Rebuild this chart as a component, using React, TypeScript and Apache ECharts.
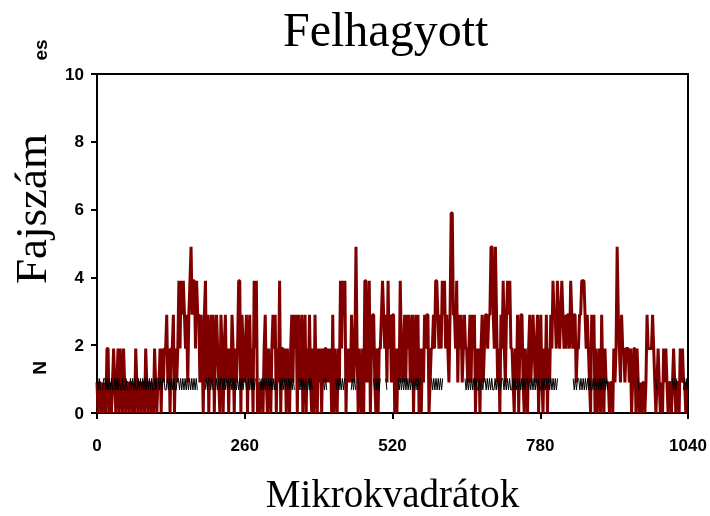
import React, { useEffect, useRef } from "react";
import * as echarts from "echarts";

// Species count per micro-quadrat step (each char = one sample)
const redCounts: string[] = [
  // 0 - 93
  "101101010220101210120210210110110102101101102101",
  // 93 - 187
  "101021011202122312022302124243432313453442433132",
  // 187 - 280
  "034130231302321032023120213202124403212302312042",
  // 280 - 373
  "401011023102102323021402212021023132303213023021",
  // 373 - 466
  "310203102120212212120302102142434021213212520210",
  // 466 - 560
  "204412402331020223432314231330202142123132312302",
  // 560 - 653
  "313020213233012232443232434232136633241323123221",
  // 653 - 746
  "231323021202312332335532531203242134342210213023",
  // 746 - 839
  "310210231232123023102130213243324323432323324323",
  // 839 - 933
  "312233444323210323020120310211101102125321322122",
  // 933 - 1040
  "2120122021010110132222321012101021210110121011021211011",
];

// Plotted height of each count level
const levelValues = [0, 0.9, 1.9, 2.9, 3.9, 4.9, 5.9];

// Black reference trace: a = high, b = low, . = gap
const blackTrace: string[] = [
  "ababbbaababababbabababbabbabbbabababbababababab",
  "ababbabaababaabbababababbaababababababababab......",
  "babaababbbababaababababababababababaabbabababa...",
  "abababababababab..ababababababab...ababababbabab",
  ".........abab.......ababababa.....babab.ab......",
  "......abababa....ab.........abababababababababab",
  "a.........abababababa...................abababab",
  "ababbababaababababbabababaababababbababababababa",
  "ababababababbabababababababa.............ababa",
  "ababababababbababababababab.................",
  ".........ab..............ab.............ababa.....babab",
];

const xMax = 1040;
const xTicks = [0, 260, 520, 780, 1040];
const yTicks = [0, 2, 4, 6, 8, 10];
const blackHigh = 1.02;
const blackLow = 0.68;

export default function App() {
  const ref = useRef<HTMLDivElement>(null);
  useEffect(() => {
    if (!ref.current) return;
    const chart = echarts.init(ref.current, null, { renderer: "svg" });
    const red = redCounts.join("").split("").map((c) => levelValues[Number(c)]);
    const blk = blackTrace.join("").split("");
    const n = red.length;
    const m = blk.length;
    const redData = red.map((v, i) => [(i * xMax) / (n - 1), v]);
    const blackData = blk.map((c, i) => [
      (i * xMax) / (m - 1),
      c === "a" ? blackHigh : c === "b" ? blackLow : null,
    ]);
    chart.setOption({
      animation: false,
      title: {
        text: "Felhagyott",
        left: 278,
        top: 0,
        textStyle: {
          fontFamily: "Liberation Serif",
          fontWeight: "normal",
          fontSize: 48,
          color: "#000",
        },
      },
      grid: {
        left: 97,
        top: 74,
        width: 591,
        height: 339,
        show: true,
        borderColor: "#000",
        borderWidth: 2,
        outerBoundsMode: "none",
        containLabel: false,
      },
      xAxis: {
        type: "value",
        min: 0,
        max: xMax,
        interval: 260,
        name: "Mikrokvadrátok",
        nameLocation: "middle",
        nameGap: 61,
        nameTextStyle: { fontFamily: "Liberation Serif", fontSize: 39, color: "#000" },
        axisLine: { show: true, lineStyle: { color: "#000", width: 2 } },
        axisTick: { show: true, inside: false, length: 6, lineStyle: { color: "#000", width: 2 } },
        axisLabel: {
          color: "#000",
          fontWeight: "bold",
          fontSize: 17,
          fontFamily: "Liberation Sans",
          margin: 24,
          formatter: (v: number) => String(v),
          customValues: xTicks,
        },
        splitLine: { show: false },
      },
      yAxis: {
        type: "value",
        min: 0,
        max: 10,
        interval: 2,
        axisLine: { show: true, lineStyle: { color: "#000", width: 2 } },
        axisTick: { show: true, inside: false, length: 6, lineStyle: { color: "#000", width: 2 } },
        axisLabel: {
          color: "#000",
          fontWeight: "bold",
          fontSize: 17,
          fontFamily: "Liberation Sans",
          margin: 13,
          formatter: (v: number) => String(v),
          customValues: yTicks,
        },
        splitLine: { show: false },
      },
      graphic: [
        {
          type: "text",
          x: 31,
          y: 209,
          rotation: Math.PI / 2,
          style: {
            text: "Fajszám",
            fontFamily: "Liberation Serif",
            fontSize: 45,
            fill: "#000",
            textAlign: "center",
            textVerticalAlign: "middle",
          },
        },
        {
          type: "text",
          x: 40,
          y: 50,
          rotation: Math.PI / 2,
          style: {
            text: "es",
            fontFamily: "Liberation Sans",
            fontWeight: "bold",
            fontSize: 19,
            fill: "#000",
            textAlign: "center",
            textVerticalAlign: "middle",
          },
        },
        {
          type: "text",
          x: 39,
          y: 368,
          rotation: Math.PI / 2,
          style: {
            text: "N",
            fontFamily: "Liberation Sans",
            fontWeight: "bold",
            fontSize: 19,
            fill: "#000",
            textAlign: "center",
            textVerticalAlign: "middle",
          },
        },
      ],
      series: [
        {
          type: "line",
          data: redData,
          showSymbol: false,
          lineStyle: { color: "#800000", width: 3 },
          itemStyle: { color: "#800000" },
          z: 2,
        },
        {
          type: "line",
          data: blackData,
          showSymbol: false,
          connectNulls: false,
          lineStyle: { color: "#000", width: 1 },
          itemStyle: { color: "#000" },
          z: 3,
        },
      ],
    });
    return () => chart.dispose();
  }, []);
  return (
    <div
      ref={ref}
      style={{ position: "fixed", left: 0, top: 0, width: 710, height: 516 }}
    />
  );
}
